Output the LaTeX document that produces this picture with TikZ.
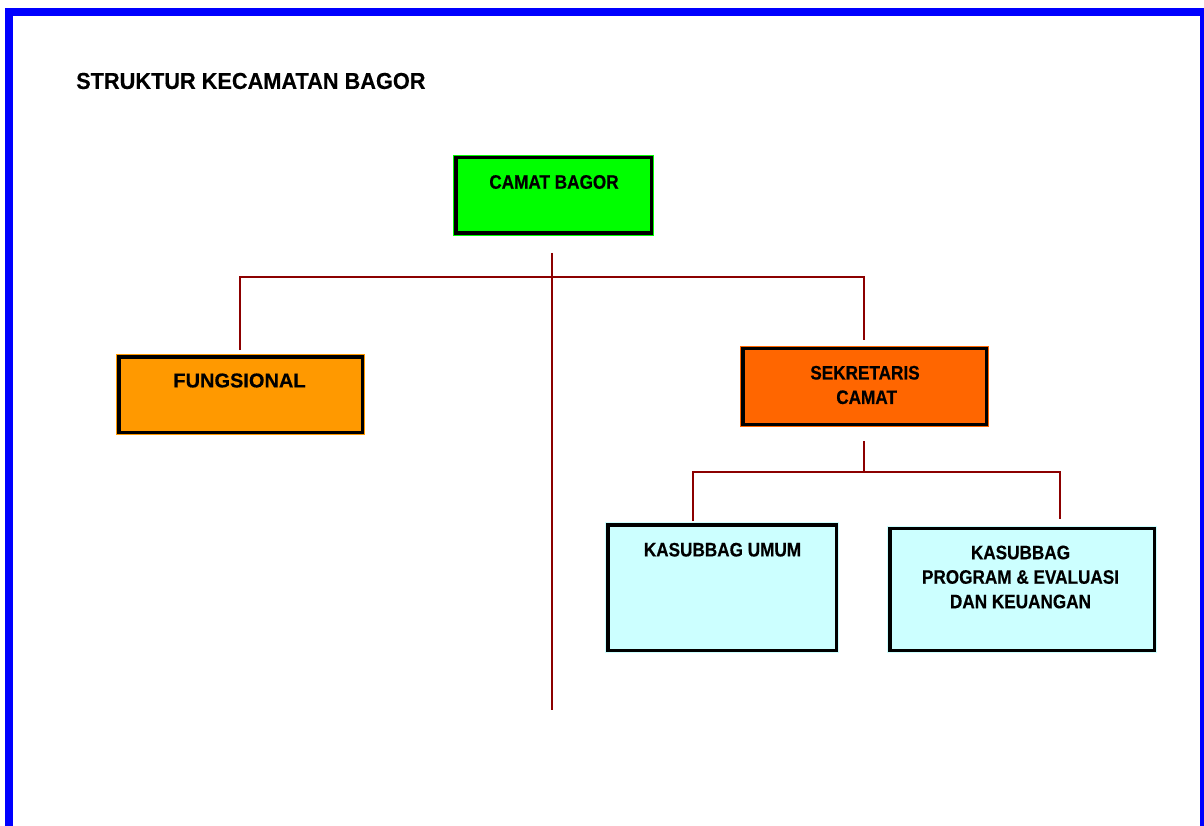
\documentclass[tikz,border=0pt]{standalone}
\usepackage{fontspec}
\setmainfont{Liberation Sans}
\newfontfamily\narrowfont[FakeStretch=0.88,FakeBold=0.4]{Liberation Sans}
\newfontfamily\titlefont[FakeStretch=0.945,FakeBold=0.3]{Liberation Sans}
\newfontfamily\widefont[FakeBold=0.4]{Liberation Sans}
\definecolor{frameblue}{RGB}{0,0,255}
\definecolor{linered}{RGB}{140,0,0}
\definecolor{boxgreen}{RGB}{0,255,0}
\definecolor{boxorange}{RGB}{255,153,0}
\definecolor{boxdeep}{RGB}{255,102,0}
\definecolor{boxcyan}{RGB}{204,255,255}
\begin{document}
\begin{tikzpicture}[x=1pt,y=-1pt,
  orgbox/.style={rectangle,inner sep=0pt,draw=black,line width=3.5pt,fill=#1,
     preaction={draw=#1,line width=5.5pt}},
  lbl/.style={inner sep=0pt,align=center,font=\narrowfont\bfseries\fontsize{19.5}{24.5}\selectfont},
  conn/.style={draw=linered,line width=2pt}]
\useasboundingbox (0,0) rectangle (1204,826);
\clip (0,0) rectangle (1204,826);
\fill[white] (0,0) rectangle (1204,826);
\draw[frameblue,line width=8pt] (9,12) rectangle (1204,860);

\node[anchor=west,inner sep=0pt,font=\titlefont\bfseries\fontsize{23}{27}\selectfont] (title) at (76,81) {STRUKTUR KECAMATAN BAGOR};

\node[orgbox=boxgreen,minimum width=195.5pt,minimum height=75.2pt] (camat) at (553.5,195.35) {};
\node[orgbox=boxorange,minimum width=243.5pt,minimum height=75.5pt] (fung) at (240.5,394.5) {};
\node[orgbox=boxdeep,minimum width=243.5pt,minimum height=75.8pt] (sek) at (864.5,386.35) {};
\node[orgbox=boxcyan,minimum width=228.5pt,minimum height=125.5pt] (umum) at (722,587.5) {};
\node[orgbox=boxcyan,minimum width=264.5pt,minimum height=122.1pt] (prog) at (1022,589.5) {};

\node[lbl] (camattxt) at (554,182) {CAMAT BAGOR};
\node[lbl,font=\widefont\bfseries\fontsize{20}{24}\selectfont] (fungtxt) at (239.5,380.5) {FUNGSIONAL};
\node[lbl] (sektxt) at (865,385) {SEKRETARIS\\ \,CAMAT};
\node[lbl] (umumtxt) at (722.5,549.7) {KASUBBAG UMUM};
\node[lbl] (progtxt) at (1020.5,577) {KASUBBAG\\PROGRAM \& EVALUASI\\DAN KEUANGAN};

\coordinate (vtop) at (552,253);
\coordinate (vbot) at (552,710);
\coordinate (hl) at (240,277);
\coordinate (hr) at (864,277);
\coordinate (fungend) at (240,350);
\coordinate (sekend) at (864,340);
\coordinate (sekout) at (864,441);
\coordinate (hub) at (864,472);
\coordinate (sl) at (693,472);
\coordinate (sr) at (1060,472);
\coordinate (umumend) at (693,521);
\coordinate (progend) at (1060,519);

\draw[conn] (vtop) -- (vbot);
\draw[conn] (fungend) -- (hl) -- (hr) -- (sekend);
\draw[conn] (sekout) -- (hub);
\draw[conn] (umumend) -- (sl) -- (sr) -- (progend);
\end{tikzpicture}
\end{document}
